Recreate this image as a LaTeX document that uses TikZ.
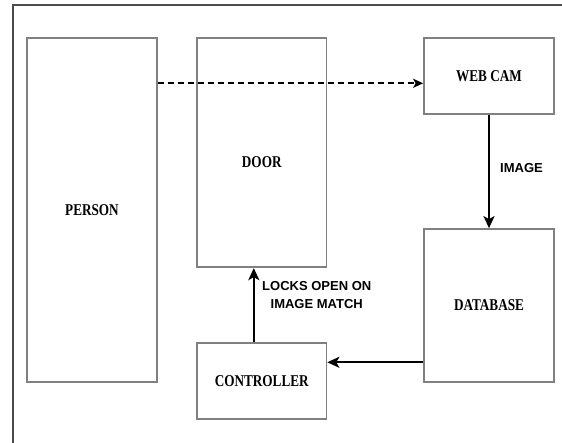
\documentclass[tikz,border=0pt]{standalone}
\usepackage{fontspec}
\setmainfont{Liberation Serif}
\newfontfamily\boxfont{Liberation Serif}[FakeStretch=0.8]
\newfontfamily\notefont{Liberation Sans}
\usetikzlibrary{arrows.meta}
\tikzset{
  x=1pt, y=1pt,
  frameline/.style={draw=black!70, line width=1.5pt},
  blockbox/.style={draw=black!50, line width=1.7pt, rectangle, inner sep=0pt},
  blocktext/.style={inner sep=0pt, font=\boxfont\bfseries\fontsize{16.5}{18}\selectfont},
  notetext/.style={inner sep=0pt, align=center, font=\notefont\bfseries\fontsize{13}{18}\selectfont},
  flow/.style={draw=black, line width=2.2pt, -{Stealth[length=12pt, width=11pt, inset=3pt]}},
  sight/.style={draw=black, line width=2pt, dash pattern=on 6pt off 4pt,
    -{Stealth[length=10pt, width=9pt, inset=2.5pt]}},
}
\begin{document}
\begin{tikzpicture}
\useasboundingbox (0,0) rectangle (562,443);
\fill[white] (0,0) rectangle (562,443);

% outer frame: only the top and left edges fall inside the page
\coordinate (frame-bl) at (13,0);
\coordinate (frame-tl) at (13,438);
\coordinate (frame-tr) at (562,438);
\draw[frameline] (frame-bl) -- (frame-tl) -- (frame-tr);

% blocks
\node[blockbox, minimum width=130, minimum height=344] (person) at (92,233.3) {};
\node[blocktext] (person-text) at (person.center) {PERSON};

\node[blockbox, minimum width=129.5, minimum height=229.6] (door) at (261.75,290.5) {};
\node[blocktext] (door-text) at (261.75,280.5) {DOOR};

\node[blockbox, minimum width=130, minimum height=76.6] (webcam) at (489,367) {};
\node[blocktext] (webcam-text) at (webcam.center) {WEB CAM};

\node[blockbox, minimum width=130, minimum height=152.7] (database) at (489,137.65) {};
\node[blocktext] (database-text) at (database.center) {DATABASE};

\node[blockbox, minimum width=129.5, minimum height=76] (controller) at (261.75,61.7) {};
\node[blocktext] (controller-text) at (controller.center) {CONTROLLER};

% connectors
\coordinate (sightline) at (0,359.7);
\draw[sight] (person.east |- sightline) -- (webcam.west |- sightline);

\draw[flow] (webcam.south) -- (database.north);
\node[notetext, anchor=west] (image-label) at (500,275) {IMAGE};

\coordinate (feedback) at (0,80.7);
\draw[flow] (database.west |- feedback) -- (controller.east |- feedback);

\coordinate (unlock) at (253.8,0);
\draw[flow] (controller.north -| unlock) -- (door.south -| unlock);
\node[notetext, anchor=north west] (unlock-label) at (262,161.5) {LOCKS OPEN ON\\IMAGE MATCH};
\end{tikzpicture}
\end{document}
